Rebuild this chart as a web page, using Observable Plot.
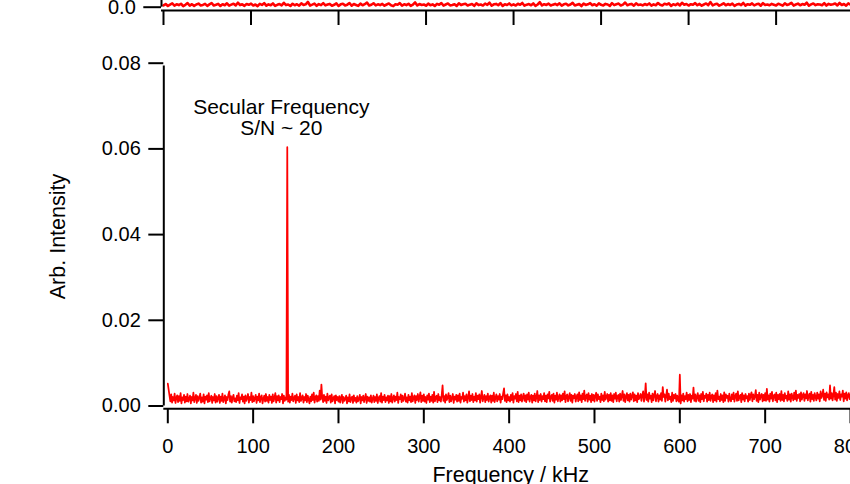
<!DOCTYPE html>
<html><head><meta charset="utf-8">
<script src="https://cdn.jsdelivr.net/npm/d3@7"></script>
<script src="https://cdn.jsdelivr.net/npm/@observablehq/plot@0.6"></script>
<style>
html,body{margin:0;padding:0;background:#fff;overflow:hidden}
#chart{position:relative;width:850px;height:484px;overflow:hidden}
#chart svg{position:absolute;left:0;top:0}
</style></head><body><div id="chart"></div>
<script>
// ---- bottom panel: spectrum, 1 kHz steps from 0 to 800 kHz ----
const freqStepKHz = 1;
const intensity = [
.0052,.0038,.0024,.0011,.0027,.0008,.0021,.0013,.0029,.0007,.0019,.0025,.0009,.0023,.0012,.0030,.0006,.0020,.0014,.0026,
.0008,.0022,.0011,.0028,.0010,.0017,.0024,.0006,.0021,.0013,.0031,.0009,.0018,.0026,.0007,.0023,.0012,.0019,.0029,.0008,
.0020,.0010,.0027,.0006,.0022,.0015,.0025,.0009,.0030,.0011,.0018,.0024,.0007,.0021,.0013,.0028,.0008,.0023,.0010,.0019,
.0026,.0007,.0022,.0012,.0029,.0009,.0017,.0025,.0006,.0021,.0014,.0027,.0034,.0010,.0023,.0008,.0020,.0026,.0011,.0018,
.0009,.0024,.0013,.0030,.0007,.0020,.0016,.0027,.0010,.0022,.0006,.0025,.0012,.0019,.0028,.0008,.0021,.0014,.0031,.0009,
.0023,.0011,.0018,.0026,.0007,.0022,.0013,.0029,.0009,.0020,.0025,.0006,.0017,.0024,.0010,.0028,.0012,.0021,.0008,.0026,
.0014,.0022,.0007,.0027,.0011,.0019,.0030,.0008,.0023,.0013,.0025,.0009,.0021,.0016,.0028,.0006,.0024,.0012,.0020,.0015,
.0604,.0010,.0026,.0008,.0022,.0014,.0029,.0011,.0019,.0024,.0007,.0027,.0013,.0021,.0009,.0030,.0012,.0018,.0025,.0008,
.0021,.0013,.0028,.0009,.0024,.0016,.0006,.0022,.0011,.0027,.0014,.0031,.0008,.0020,.0025,.0010,.0023,.0012,.0036,.0015,
.0050,.0019,.0009,.0026,.0012,.0022,.0007,.0029,.0013,.0020,.0024,.0008,.0027,.0011,.0018,.0023,.0006,.0025,.0014,.0021,
.0010,.0023,.0008,.0019,.0026,.0007,.0021,.0012,.0017,.0024,.0006,.0020,.0011,.0027,.0009,.0018,.0022,.0007,.0025,.0012,
.0019,.0008,.0023,.0011,.0016,.0026,.0006,.0021,.0013,.0024,.0009,.0018,.0028,.0007,.0022,.0012,.0020,.0010,.0025,.0008,
.0017,.0024,.0009,.0021,.0012,.0027,.0007,.0019,.0023,.0010,.0030,.0008,.0022,.0014,.0026,.0009,.0020,.0013,.0024,.0007,
.0023,.0011,.0028,.0008,.0019,.0025,.0010,.0022,.0014,.0031,.0007,.0021,.0016,.0027,.0009,.0024,.0012,.0018,.0029,.0010,
.0020,.0008,.0026,.0013,.0022,.0009,.0030,.0011,.0019,.0025,.0007,.0023,.0014,.0028,.0010,.0021,.0032,.0009,.0024,.0012,
.0027,.0010,.0021,.0007,.0025,.0015,.0029,.0009,.0022,.0012,.0026,.0008,.0033,.0011,.0020,.0024,.0009,.0028,.0013,.0021,
.0010,.0026,.0048,.0012,.0023,.0008,.0027,.0014,.0020,.0030,.0009,.0024,.0011,.0019,.0028,.0007,.0022,.0015,.0026,.0010,
.0025,.0012,.0029,.0008,.0021,.0017,.0031,.0010,.0023,.0013,.0027,.0008,.0020,.0034,.0011,.0024,.0014,.0028,.0009,.0022,
.0013,.0030,.0010,.0024,.0016,.0027,.0008,.0022,.0035,.0011,.0019,.0026,.0009,.0023,.0014,.0029,.0010,.0021,.0025,.0008,
.0024,.0012,.0031,.0009,.0020,.0027,.0011,.0023,.0015,.0028,.0008,.0022,.0016,.0030,.0041,.0012,.0025,.0009,.0027,.0013,
.0021,.0010,.0026,.0014,.0030,.0008,.0023,.0017,.0028,.0011,.0033,.0009,.0024,.0013,.0027,.0010,.0021,.0029,.0012,.0025,
.0009,.0027,.0015,.0031,.0010,.0022,.0026,.0008,.0024,.0013,.0029,.0011,.0020,.0035,.0009,.0025,.0014,.0028,.0010,.0023,
.0016,.0030,.0011,.0024,.0009,.0027,.0018,.0033,.0010,.0022,.0026,.0012,.0029,.0008,.0024,.0015,.0031,.0011,.0021,.0027,
.0010,.0025,.0013,.0029,.0016,.0034,.0009,.0023,.0027,.0011,.0021,.0030,.0012,.0026,.0008,.0024,.0018,.0028,.0010,.0022,
.0027,.0011,.0032,.0014,.0025,.0009,.0029,.0016,.0036,.0012,.0023,.0027,.0010,.0030,.0015,.0024,.0009,.0028,.0013,.0026,
.0010,.0024,.0031,.0012,.0027,.0016,.0022,.0009,.0029,.0014,.0025,.0011,.0033,.0015,.0021,.0028,.0010,.0026,.0013,.0030,
.0012,.0025,.0009,.0028,.0017,.0031,.0011,.0023,.0026,.0010,.0029,.0014,.0024,.0035,.0012,.0027,.0009,.0022,.0030,.0013,
.0026,.0010,.0029,.0015,.0023,.0032,.0011,.0027,.0013,.0024,.0009,.0030,.0016,.0021,.0028,.0012,.0025,.0034,.0010,.0022,
.0053,.0014,.0027,.0010,.0031,.0017,.0024,.0009,.0029,.0013,.0026,.0035,.0011,.0023,.0028,.0010,.0025,.0015,.0030,.0012,
.0044,.0021,.0027,.0010,.0024,.0038,.0013,.0029,.0016,.0022,.0009,.0031,.0012,.0026,.0018,.0028,.0011,.0024,.0014,.0010,
.0073,.0006,.0025,.0013,.0029,.0010,.0023,.0016,.0031,.0011,.0026,.0014,.0028,.0009,.0024,.0017,.0043,.0012,.0027,.0010,
.0022,.0030,.0012,.0025,.0009,.0028,.0016,.0033,.0011,.0024,.0019,.0029,.0010,.0026,.0014,.0031,.0012,.0023,.0027,.0009,
.0025,.0013,.0030,.0010,.0036,.0016,.0022,.0011,.0028,.0014,.0025,.0009,.0032,.0012,.0027,.0019,.0024,.0010,.0029,.0015,
.0011,.0027,.0016,.0031,.0010,.0024,.0029,.0012,.0034,.0013,.0022,.0026,.0009,.0030,.0015,.0025,.0011,.0028,.0018,.0023,
.0010,.0029,.0014,.0025,.0032,.0011,.0027,.0016,.0023,.0037,.0012,.0026,.0009,.0031,.0015,.0024,.0028,.0011,.0026,.0013,
.0030,.0012,.0040,.0015,.0025,.0010,.0029,.0017,.0033,.0011,.0024,.0027,.0013,.0031,.0009,.0026,.0016,.0028,.0012,.0035,
.0014,.0026,.0011,.0030,.0018,.0024,.0012,.0034,.0015,.0027,.0010,.0029,.0022,.0013,.0031,.0016,.0036,.0012,.0026,.0019,
.0028,.0011,.0032,.0015,.0025,.0030,.0012,.0027,.0018,.0035,.0013,.0024,.0029,.0010,.0033,.0016,.0026,.0012,.0030,.0021,
.0013,.0031,.0017,.0027,.0011,.0034,.0019,.0025,.0038,.0014,.0029,.0012,.0032,.0020,.0027,.0015,.0048,.0017,.0030,.0013,
.0026,.0044,.0015,.0031,.0012,.0028,.0019,.0034,.0014,.0027,.0022,.0036,.0011,.0029,.0017,.0032,.0013,.0025,.0030,.0016,
.0027
];
const xTicks = [0, 100, 200, 300, 400, 500, 600, 700, 800];
const yTicks = [0, 0.02, 0.04, 0.06, 0.08];
const xLabel = "Frequency / kHz";
const yLabel = "Arb. Intensity";
const annotationLines = ["Secular Frequency", "S/N ~ 20"];

// ---- top panel (cropped): signal trace ----
const topStep = 0.025;
const topSignal = [
.012,.021,.008,.017,.025,.010,.019,.014,.023,.007,.016,.027,.011,.020,.009,.018,.024,.012,.015,.022,
.009,.019,.028,.011,.016,.022,.008,.020,.013,.026,.010,.017,.023,.012,.030,.014,.019,.009,.021,.016,
.024,.011,.018,.007,.022,.015,.027,.010,.019,.013,.025,.009,.016,.021,.012,.029,.014,.018,.008,.023,
.013,.020,.010,.026,.015,.019,.035,.011,.017,.024,.009,.021,.014,.027,.012,.018,.022,.010,.016,.025,
.008,.019,.023,.012,.017,.028,.010,.021,.015,.009,.024,.013,.020,.031,.011,.016,.026,.012,.019,.014,
.022,.010,.018,.025,.013,.007,.020,.016,.027,.011,.019,.014,.023,.009,.017,.032,.012,.021,.015,.018,
.010,.024,.013,.019,.008,.022,.016,.028,.011,.018,.025,.012,.015,.020,.009,.026,.014,.019,.023,.011,
.017,.021,.009,.026,.014,.018,.011,.024,.016,.030,.010,.019,.022,.013,.027,.008,.020,.015,.025,.012,
.019,.011,.023,.016,.028,.010,.017,.021,.013,.025,.009,.018,.033,.012,.020,.015,.024,.011,.017,.022,
.014,.026,.010,.019,.023,.012,.018,.029,.011,.016,.021,.008,.024,.015,.019,.027,.013,.020,.010,.025,
.016,.012,.022,.018,.009,.027,.014,.020,.024,.011,.017,.031,.013,.019,.022,.010,.026,.015,.018,.012,
.021,.015,.025,.010,.019,.013,.028,.016,.011,.023,.018,.026,.009,.020,.014,.024,.012,.029,.017,.021,
.011,.020,.016,.027,.013,.022,.010,.018,.025,.014,.034,.012,.019,.023,.010,.017,.026,.013,.021,.015,
.024,.009,.018,.022,.014,.028,.011,.020,.016,.025,.012,.019,.023,.010,.027,.015,.018,.013,.022,.017,
.012,.023,.017,.010,.026,.015,.020,.029,.011,.018,.024,.013,.021,.016,.030,.010,.019,.025,.014,.020,
.018,.013,.027,.011,.022,.016,.019,.024,.012,.028,.015,.021,.010,.025,.017,.020,.013,.023,.016,.019
];
const topXTicks = [0, 1, 2, 3, 4, 5, 6, 7, 8];
const topYTicks = [0];

const spectrum = intensity.map((v, i) => ({f: i * freqStepKHz, v}));
const topData = topSignal.map((v, i) => ({t: i * topStep, v}));

const font = "'Liberation Sans', Arial, Helvetica, sans-serif";
const baseStyle = {fontFamily: font, fontSize: "20px", background: "transparent", color: "black", maxWidth: "none"};
const RED = "#ff0000";

const bottomPlot = Plot.plot({
  width: 850, height: 484,
  marginLeft: 163.3, marginRight: 0, marginTop: 62.7, marginBottom: 75.7,
  style: baseStyle,
  x: {domain: [0, 800], range: [167.3, 850], axis: null},
  y: {domain: [0, 0.08], range: [405.5, 62.7], axis: null},
  marks: [
    Plot.line(spectrum, {x: "f", y: "v", stroke: RED, strokeWidth: 1.75}),
    Plot.ruleX([0], {y1: 0, y2: 0.08, dx: -4, insetBottom: -2.8, strokeWidth: 2, stroke: "black"}),
    Plot.ruleY([0], {dy: 2.8, strokeWidth: 2, stroke: "black"}),
    Plot.axisY(yTicks, {anchor: "left", tickSize: 15, tickPadding: 8, tickFormat: d3.format(".2f"), strokeWidth: 2, fontSize: 20, label: null}),
    Plot.axisX(xTicks, {anchor: "bottom", tickSize: 15, tickPadding: 15, tickFormat: d3.format("d"), strokeWidth: 2, fontSize: 20, label: null}),
    Plot.text([annotationLines.join("\n")], {x: 133, y: 0.0718, text: d => d, lineAnchor: "top", lineHeight: 1.03, fontSize: 21, textAnchor: "middle"}),
    Plot.text([xLabel], {x: 400, frameAnchor: "bottom", dx: 1.5, dy: 66.8, text: d => d, lineAnchor: "middle", textAnchor: "middle", fontSize: 21.5}),
    Plot.text([yLabel], {y: 0.04, frameAnchor: "left", dx: -105.2, dy: 1.9, rotate: -90, text: d => d, lineAnchor: "middle", textAnchor: "middle", fontSize: 21.5})
  ]
});

const topPlot = Plot.plot({
  width: 850, height: 30,
  marginLeft: 161, marginRight: 0, marginTop: 0, marginBottom: 20,
  style: baseStyle,
  x: {domain: [0, 7.85], range: [163, 850], axis: null},
  y: {domain: [0, 1], range: [6.7, -143.3], axis: null},
  marks: [
    Plot.line(topData, {x: "t", y: "v", stroke: RED, strokeWidth: 2.6}),
    Plot.ruleX([0], {y1: 0, y2: 1, dx: -2, insetBottom: -3.3, strokeWidth: 2, stroke: "black"}),
    Plot.ruleY([0], {dy: 3.3, strokeWidth: 2, stroke: "black"}),
    Plot.axisY(topYTicks, {anchor: "left", tickSize: 17.7, tickPadding: 8, tickFormat: d3.format(".1f"), strokeWidth: 2, fontSize: 20, label: null}),
    Plot.axisX(topXTicks, {anchor: "bottom", tickSize: 15, tickFormat: () => "", strokeWidth: 2, label: null})
  ]
});

const chart = document.getElementById("chart");
chart.appendChild(bottomPlot);
chart.appendChild(topPlot);
</script></body></html>
